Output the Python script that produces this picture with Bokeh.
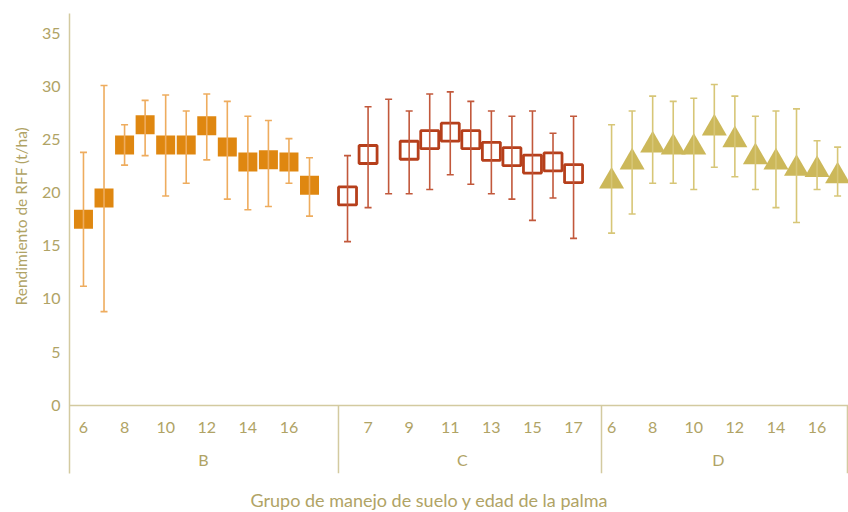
import numpy as np
from bokeh.plotting import figure
from bokeh.models import (ColumnDataSource, Whisker, TeeHead, LinearAxis,
                          FixedTicker, Range1d, Title)
from bokeh.transform import dodge
from bokeh.embed import file_html
from bokeh.resources import INLINE

nan = float("nan")

# ---------------- data ----------------
groups = ["B", "C", "D"]
ages = [6, 7, 8, 9, 10, 11, 12, 13, 14, 15, 16, 17]

b_mean = [17.5, 19.5, 24.5, 26.4, 24.5, 24.5, 26.3, 24.3, 22.9, 23.1, 22.9, 20.7]
b_upper = [23.8, 30.1, 26.4, 28.7, 29.2, 27.7, 29.3, 28.6, 27.2, 26.8, 25.1, 23.3]
b_lower = [11.2, 8.8, 22.6, 23.5, 19.7, 20.9, 23.1, 19.4, 18.4, 18.7, 20.9, 17.8]

c_mean = [19.7, 23.6, nan, 24.0, 25.0, 25.7, 25.0, 23.9, 23.4, 22.7, 22.9, 21.8]
c_upper = [23.5, 28.1, 28.8, 27.7, 29.3, 29.5, 28.6, 27.7, 27.2, 27.7, 25.6, 27.2]
c_lower = [15.4, 18.6, 19.9, 19.9, 20.3, 21.7, 20.8, 19.9, 19.4, 17.4, 19.5, 15.7]

d_mean = [21.4, 23.2, 24.8, 24.6, 24.6, 26.4, 25.3, 23.7, 23.2, 22.6, 22.5, 21.9]
d_upper = [26.4, 27.7, 29.1, 28.6, 28.9, 30.2, 29.1, 27.2, 27.7, 27.9, 24.9, 24.3]
d_lower = [16.2, 18.0, 20.9, 20.9, 20.3, 22.4, 21.5, 20.3, 18.6, 17.2, 20.3, 19.7]

tick_ages_b = [6, 8, 10, 12, 14, 16]
tick_ages_c = [7, 9, 11, 13, 15, 17]
tick_ages_d = [6, 8, 10, 12, 14, 16]
y_ticks = [0, 5, 10, 15, 20, 25, 30, 35]

y_title = "Rendimiento de RFF (t/ha)"
x_title = "Grupo de manejo de suelo y edad de la palma"

# ---------------- layout constants ----------------
offsets = {"B": 0.0, "C": 12.85, "D": 25.7}
separators = [18.41, 31.21, 43.18]
group_label_pos = {"B": 11.84, "C": 24.44, "D": 36.9}
X_START, X_END = 5.32, 43.23
Y_START, Y_END = -6.44, 36.88

TEXT = "#b0a365"
AXIS = "#d3caa0"
FONT = "Lato"

p = figure(width=848, height=512, title=None,
           x_range=Range1d(X_START, X_END), y_range=Range1d(Y_START, Y_END),
           output_backend="svg", toolbar_location=None,
           min_border_left=69, min_border_right=0,
           min_border_top=13, min_border_bottom=37)
p.grid.visible = False
p.outline_line_color = None
p.background_fill_color = "white"

# y axis
ya = p.yaxis[0]
ya.ticker = FixedTicker(ticks=y_ticks, minor_ticks=[])
ya.axis_line_color = AXIS
ya.axis_line_width = 1.5
ya.major_tick_line_color = None
ya.minor_tick_line_color = None
ya.major_tick_out = 0
ya.major_tick_in = 0
ya.minor_tick_out = 0
ya.major_label_standoff = 9
ya.major_label_text_color = TEXT
ya.major_label_text_font = FONT
ya.major_label_text_font_size = "16px"

# bottom axis: empty spacer (no ticks, no line, blank tiny label)
xa = p.xaxis[0]
xa.ticker = FixedTicker(ticks=[], minor_ticks=[])
xa.axis_line_color = None
xa.major_tick_out = 0
xa.major_tick_in = 0
xa.minor_tick_out = 0
xa.axis_label = " "
xa.axis_label_text_font_size = "1px"
xa.axis_label_standoff = 7

# axis titles
p.add_layout(Title(text=y_title, align="left", offset=168, standoff=18,
                   text_color=TEXT, text_font=FONT, text_font_size="15.5px",
                   text_font_style="normal"), "left")
p.add_layout(Title(text=x_title, align="left", offset=181, standoff=4,
                   text_color=TEXT, text_font=FONT, text_font_size="18px",
                   text_font_style="normal"), "below")

# age axis at y = 0
age_ticks = []
age_labels = {}
for g, tl in zip(groups, [tick_ages_b, tick_ages_c, tick_ages_d]):
    for a in tl:
        pos = offsets[g] + a
        age_ticks.append(pos)
        age_labels[pos] = str(a)

age_axis = LinearAxis(fixed_location=0,
                      ticker=FixedTicker(ticks=age_ticks, minor_ticks=[]),
                      major_label_overrides=age_labels,
                      axis_line_color=AXIS, axis_line_width=1.5,
                      major_tick_line_color=None, minor_tick_line_color=None,
                      major_tick_out=0, major_tick_in=0, minor_tick_out=0,
                      major_label_standoff=17,
                      major_label_text_color=TEXT, major_label_text_font=FONT,
                      major_label_text_font_size="16px")
p.add_layout(age_axis, "below")

grp_ticks = [group_label_pos[g] for g in groups]
grp_axis = LinearAxis(fixed_location=0,
                      ticker=FixedTicker(ticks=grp_ticks, minor_ticks=[]),
                      major_label_overrides={group_label_pos[g]: g for g in groups},
                      axis_line_color=None,
                      major_tick_line_color=None, minor_tick_line_color=None,
                      major_tick_out=0, major_tick_in=0, minor_tick_out=0,
                      major_label_standoff=45,
                      major_label_text_color=TEXT, major_label_text_font=FONT,
                      major_label_text_font_size="16px")
p.add_layout(grp_axis, "below")

# separators of the category box
p.segment(x0=separators, y0=[0] * len(separators),
          x1=separators, y1=[Y_START] * len(separators),
          line_color=AXIS, line_width=1.5)

# ---------------- series ----------------
series = {
    "B": (b_mean, b_upper, b_lower),
    "C": (c_mean, c_upper, c_lower),
    "D": (d_mean, d_upper, d_lower),
}
sources = {}
for g in groups:
    m, u, l = series[g]
    sources[g] = ColumnDataSource(dict(
        x=[offsets[g] + a for a in ages],
        mean=np.array(m, dtype=float),
        upper=np.array(u, dtype=float),
        lower=np.array(l, dtype=float)))

# B: filled orange squares
p.scatter("x", "mean", source=sources["B"], marker="square", size=19,
          fill_color="#df8710", line_color=None)
# C: hollow red-brown squares
p.scatter("x", "mean", source=sources["C"], marker="square", size=18,
          fill_color=None, line_color="#b63f1b", line_width=2.8)
# D: khaki triangles (shifted so the triangle's box is centred on the value)
p.scatter("x", dodge("mean", -0.33), source=sources["D"], marker="triangle",
          size=25, fill_color="#ccb85a", line_color=None)

err_colors = {"B": "#eeac5e", "C": "#c2583b", "D": "#d7c677"}
for g in groups:
    col = err_colors[g]
    w = Whisker(base="x", upper="upper", lower="lower", source=sources[g],
                line_color=col, line_width=1.6, level="annotation",
                upper_head=TeeHead(size=7, line_color=col, line_width=1.6),
                lower_head=TeeHead(size=7, line_color=col, line_width=1.6))
    p.add_layout(w)

open("out.html", "w").write(file_html(p, INLINE))
